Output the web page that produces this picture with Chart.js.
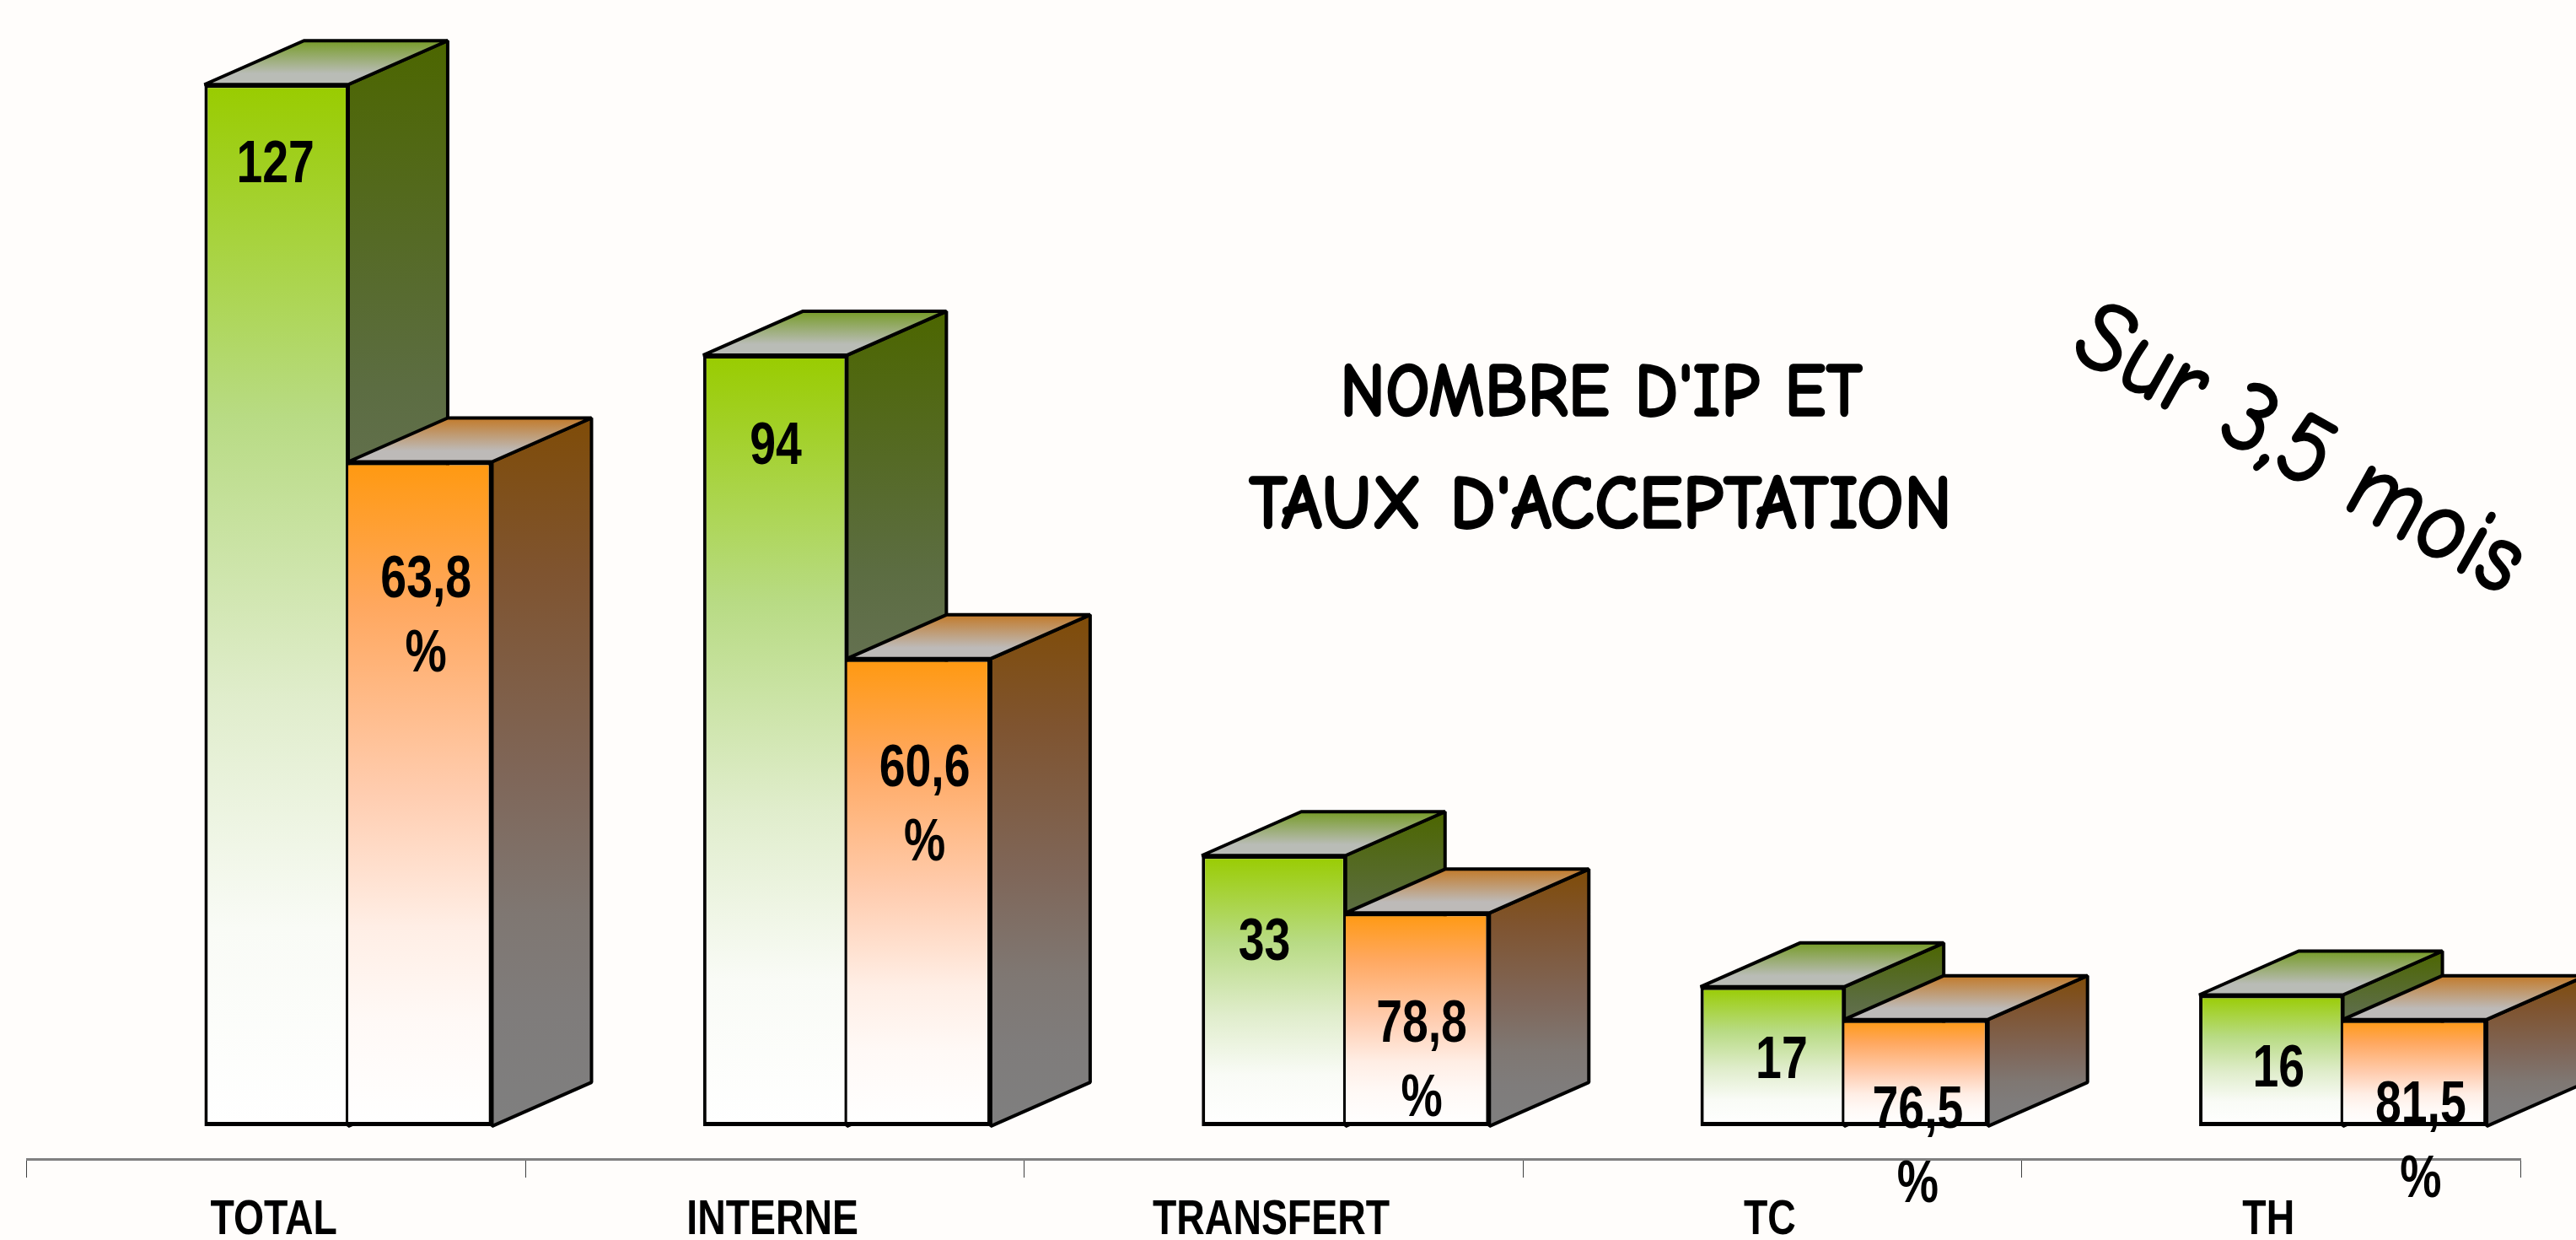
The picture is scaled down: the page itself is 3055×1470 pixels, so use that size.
<!DOCTYPE html>
<html lang="fr">
<head>
  <meta charset="UTF-8">
  <title>Nombre d'IP et taux d'acceptation</title>
  <style>
    html, body { margin: 0; padding: 0; background: #fffdfb; overflow: hidden; }
    canvas { display: block; }
  </style>
</head>
<body>
  <canvas id="myChart" width="3055" height="1470"></canvas>
  <script src="https://cdn.jsdelivr.net/npm/chart.js"></script>
  <script>
    const categories = ['TOTAL', 'INTERNE', 'TRANSFERT', 'TC', 'TH'];
    const ipCounts = [127, 94, 33, 17, 16];
    const acceptedCounts = [81, 57, 26, 13, 13];
    const acceptRates = ['63,8', '60,6', '78,8', '76,5', '81,5'];
    const titleLines = ["NOMBRE D'IP ET", "TAUX D'ACCEPTATION"];
    const periodNote = 'Sur 3,5 mois';

    const labelFont = '"Liberation Sans", Arial, sans-serif';
    const handFont = '"Comic Sans MS", "Comic Neue", Lato, sans-serif';

    // no narrow bold face here, so the text gets squeezed with fillText's maxWidth
    const squeeze = 0.78;
    const tickSqueeze = 0.8;

    // depth of the fake 3D boxes
    const depthX = 118;
    const depthY = 52;

    // where the value labels sit under the top of each bar (the original has them hand placed)
    const ipLabelDrop = [96, 109, 104, 89, 89];
    const ipLabelShift = [-1, 1, -11, 11, 9];
    const rateLabelDrop = [141, 132, 133, 109, 103];
    const rateLabelShift = [7, 7, 5, 2, 7];
    const rateLineGap = 88;

    const green = {
      stops: [[0, '#99cc00'], [0.32, '#b8db84'], [0.59, '#e0edcc'], [0.81, '#f9fbf6'], [1, '#ffffff']],
      top: '#779c28',
      topEnd: '#b9bcb6'
    };
    const orange = {
      stops: [[0, '#ff9910'], [0.22, '#ffa860'], [0.5, '#ffcdb0'], [0.7, '#ffeee5'], [0.84, '#fff9f6'], [1, '#ffffff']],
      top: '#c27a2a',
      topEnd: '#bdbab8'
    };

    // the side faces are the front colours at half brightness
    function halfShade(hex) {
      const n = parseInt(hex.slice(1), 16);
      return `rgb(${(n >> 16) >> 1}, ${((n >> 8) & 255) >> 1}, ${(n & 255) >> 1})`;
    }

    function frontGradient(ctx, colors) {
      const chart = ctx.chart;
      const y = chart.scales.y;
      if (!y || ctx.raw == null) return colors.stops[0][1];
      const y0 = y.getPixelForValue(ctx.raw);
      const y1 = y.getPixelForValue(0);
      if (!isFinite(y0) || !isFinite(y1)) return colors.stops[0][1];
      const g = chart.ctx.createLinearGradient(0, y0, 0, y1);
      colors.stops.forEach(s => g.addColorStop(s[0], s[1]));
      return g;
    }

    function squeezedText(c, text, x, y, amount) {
      c.fillText(text, x, y, c.measureText(text).width * amount);
    }

    function handText(c, text, x, y, width, thicken) {
      c.lineWidth = thicken;
      c.lineJoin = 'round';
      c.strokeStyle = '#000';
      c.strokeText(text, x, y, width);
      c.fillText(text, x, y, width);
    }

    function drawBox(c, bar, colors) {
      const left = bar.x - bar.width / 2;
      const right = bar.x + bar.width / 2;
      const top = bar.y;
      const base = bar.base;

      c.lineWidth = 4;
      c.lineJoin = 'bevel';
      c.strokeStyle = '#000';

      const sideFill = c.createLinearGradient(0, top - depthY, 0, base);
      colors.stops.forEach(s => sideFill.addColorStop(s[0], halfShade(s[1])));
      c.fillStyle = sideFill;
      c.beginPath();
      c.moveTo(right, top);
      c.lineTo(right + depthX, top - depthY);
      c.lineTo(right + depthX, base - depthY);
      c.lineTo(right, base);
      c.closePath();
      c.fill();
      c.stroke();

      const topFill = c.createLinearGradient(0, top - depthY, 0, top);
      topFill.addColorStop(0, colors.top);
      topFill.addColorStop(0.75, colors.topEnd);
      topFill.addColorStop(1, colors.topEnd);
      c.fillStyle = topFill;
      c.beginPath();
      c.moveTo(left, top);
      c.lineTo(left + depthX, top - depthY);
      c.lineTo(right + depthX, top - depthY);
      c.lineTo(right, top);
      c.closePath();
      c.fill();
      c.stroke();
    }

    const boxes3d = {
      id: 'boxes3d',
      beforeDatasetsDraw(chart) {
        const c = chart.ctx;
        const greenBars = chart.getDatasetMeta(1).data;
        const orangeBars = chart.getDatasetMeta(2).data;
        c.save();
        greenBars.forEach((bar, i) => {
          drawBox(c, bar, green);
          drawBox(c, orangeBars[i], orange);
        });
        c.restore();
      },
      afterDatasetsDraw(chart) {
        const c = chart.ctx;
        c.save();
        c.fillStyle = '#000';
        c.textAlign = 'center';
        c.textBaseline = 'middle';
        c.font = 'bold 71px ' + labelFont;
        chart.getDatasetMeta(1).data.forEach((bar, i) => {
          squeezedText(c, String(ipCounts[i]), bar.x + ipLabelShift[i], bar.y + ipLabelDrop[i], squeeze);
        });
        chart.getDatasetMeta(2).data.forEach((bar, i) => {
          const x = bar.x + rateLabelShift[i];
          const y = bar.y + rateLabelDrop[i];
          squeezedText(c, acceptRates[i], x, y, squeeze);
          squeezedText(c, '%', x, y + rateLineGap, squeeze);
        });

        // category names, drawn here because the axis can't squeeze its tick text
        const xScale = chart.scales.x;
        c.font = 'bold 58px ' + labelFont;
        c.textBaseline = 'alphabetic';
        categories.forEach((name, i) => {
          squeezedText(c, name, xScale.getPixelForTick(i) - 3, 1463, tickSqueeze);
        });

        // title and side note
        c.font = 'bold 92px ' + handFont;
        handText(c, titleLines[0], 1899, 493, 620, 1.5);
        handText(c, titleLines[1], 1898, 626, 834, 1.5);

        c.translate(2727, 534);
        c.rotate(29 * Math.PI / 180);
        c.font = '118px ' + handFont;
        c.textBaseline = 'middle';
        handText(c, periodNote, 0, 0, 590, 3);
        c.restore();
      }
    };

    new Chart(document.getElementById('myChart'), {
      type: 'bar',
      plugins: [boxes3d],
      data: {
        labels: categories,
        datasets: [
          // empty slot, the boxes stand to the right of the category centre
          { label: '', data: categories.map(() => null), backgroundColor: 'transparent' },
          {
            label: "Nombre d'IP",
            data: ipCounts,
            backgroundColor: ctx => frontGradient(ctx, green),
            borderColor: '#000',
            borderWidth: { top: 4, left: 4, right: 3, bottom: 5 },
            borderSkipped: false
          },
          {
            label: 'Acceptées',
            data: acceptedCounts,
            backgroundColor: ctx => frontGradient(ctx, orange),
            borderColor: '#000',
            borderWidth: { top: 4, left: 0, right: 4, bottom: 5 },
            borderSkipped: false
          }
        ]
      },
      options: {
        responsive: false,
        animation: false,
        categoryPercentage: 0.865,
        barPercentage: 1,
        layout: { padding: { left: 32, right: 66, top: 3, bottom: 0 } },
        plugins: { legend: { display: false }, tooltip: { enabled: false } },
        scales: {
          x: {
            afterFit(scale) { scale.height = 96; },
            border: { color: '#808080', width: 3 },
            grid: { drawOnChartArea: false, color: '#404040', lineWidth: 1, tickLength: 22 },
            ticks: { display: false }
          },
          y: { display: false, min: -4, max: 137 }
        }
      }
    });
  </script>
</body>
</html>
